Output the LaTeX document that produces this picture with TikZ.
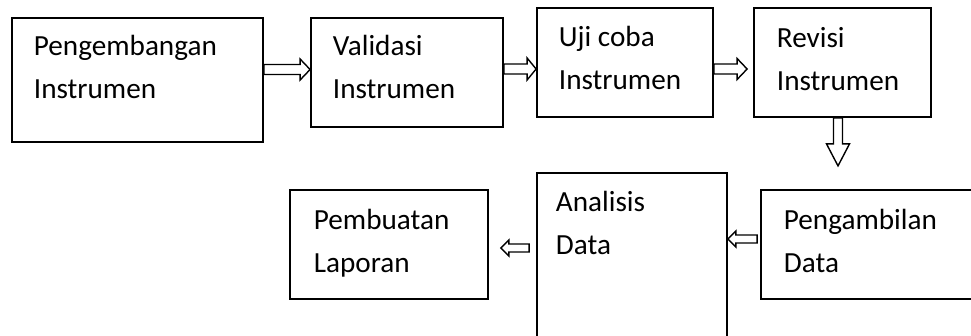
\documentclass[tikz,border=0pt]{standalone}
\usepackage{fontspec}
\setmainfont{Carlito}
\usetikzlibrary{calc}

\tikzset{every picture/.style={line width=1.8pt}}
\tikzset{
  box/.style={draw, rectangle, inner sep=0pt},
  lbl/.style={anchor=base west, inner sep=0pt, align=left, font=\fontsize{29.2}{43}\selectfont},
  blockarr/.style n args={3}{line width=1.4pt, to path={
    ($(\tikztostart)!#1!90:(\tikztotarget)$)
    -- ($(\tikztotarget)!#3!(\tikztostart)!#1!-90:(\tikztostart)$)
    -- ($(\tikztotarget)!#3!(\tikztostart)!#2!-90:(\tikztostart)$)
    -- (\tikztotarget)
    -- ($(\tikztotarget)!#3!(\tikztostart)!#2!90:(\tikztostart)$)
    -- ($(\tikztotarget)!#3!(\tikztostart)!#1!90:(\tikztostart)$)
    -- ($(\tikztostart)!#1!-90:(\tikztotarget)$)
    -- cycle}}
}

\begin{document}
\begin{tikzpicture}[x=1pt,y=1pt,yscale=-1,xscale=1]
\useasboundingbox (0,0) rectangle (971,335);

%Shape: Rectangle [id:dev]
\node[box, minimum width=251, minimum height=124] (dev) at (137.5,80) {};
%Shape: Rectangle [id:val]
\node[box, minimum width=192, minimum height=109] (val) at (407,72.5) {};
%Shape: Rectangle [id:uji]
\node[box, minimum width=176, minimum height=109] (uji) at (625,62.5) {};
%Shape: Rectangle [id:rev]
\node[box, minimum width=177, minimum height=109] (rev) at (842.5,62.5) {};
%Shape: Rectangle [id:amb]
\node[box, minimum width=224, minimum height=109] (amb) at (873,244.5) {};
%Shape: Rectangle [id:ana]
\node[box, minimum width=190, minimum height=172] (ana) at (632,259) {};
%Shape: Rectangle [id:lap]
\node[box, minimum width=198, minimum height=109] (lap) at (389,244.5) {};

% Text Node (anchor at baseline of last line)
\node[lbl] (devtxt) at (33,98) {Pengembangan\\Instrumen};
% Text Node
\node[lbl] (valtxt) at (332,98) {Validasi\\Instrumen};
% Text Node
\node[lbl] (ujitxt) at (558,89) {Uji coba\\Instrumen};
% Text Node
\node[lbl] (revtxt) at (776,90) {Revisi\\Instrumen};
% Text Node
\node[lbl] (ambtxt) at (783,272) {Pengambilan\\Data};
% Text Node
\node[lbl] (anatxt) at (555,254) {Analisis\\Data};
% Text Node
\node[lbl] (laptxt) at (313,272) {Pembuatan\\Laporan};

%Right Arrows
\coordinate (a1s) at ($(dev.east)+(0,-10.5)$);
\coordinate (a1e) at ($(val.west)+(0,-3)$);
\draw[blockarr={5pt}{10.5pt}{10pt}] (a1s) to (a1e);
\coordinate (a2s) at ($(val.east)+(0,-3.5)$);
\coordinate (a2e) at ($(uji.west)+(0,6.5)$);
\draw[blockarr={5pt}{11pt}{9pt}] (a2s) to (a2e);
\coordinate (a3s) at ($(uji.east)+(0,6.5)$);
\coordinate (a3e) at ($(rev.west)+(-6,6.5)$);
\draw[blockarr={5pt}{10.5pt}{10pt}] (a3s) to (a3e);

%Down Arrow
\coordinate (d1s) at ($(rev.south)+(-4.5,0)$);
\coordinate (d1e) at ($(rev.south)+(-4.5,48)$);
\draw[blockarr={4.5pt}{11.5pt}{22pt}] (d1s) to (d1e);

%Left Arrows
\coordinate (b1s) at ($(amb.west)+(-3,-5.5)$);
\coordinate (b1e) at ($(ana.east)+(0,-20)$);
\draw[blockarr={4pt}{8pt}{8pt}] (b1s) to (b1e);
\coordinate (b2s) at ($(ana.west)+(-7,-11)$);
\coordinate (b2e) at ($(lap.east)+(12,3.5)$);
\draw[blockarr={4pt}{8pt}{8pt}] (b2s) to (b2e);
\end{tikzpicture}
\end{document}
